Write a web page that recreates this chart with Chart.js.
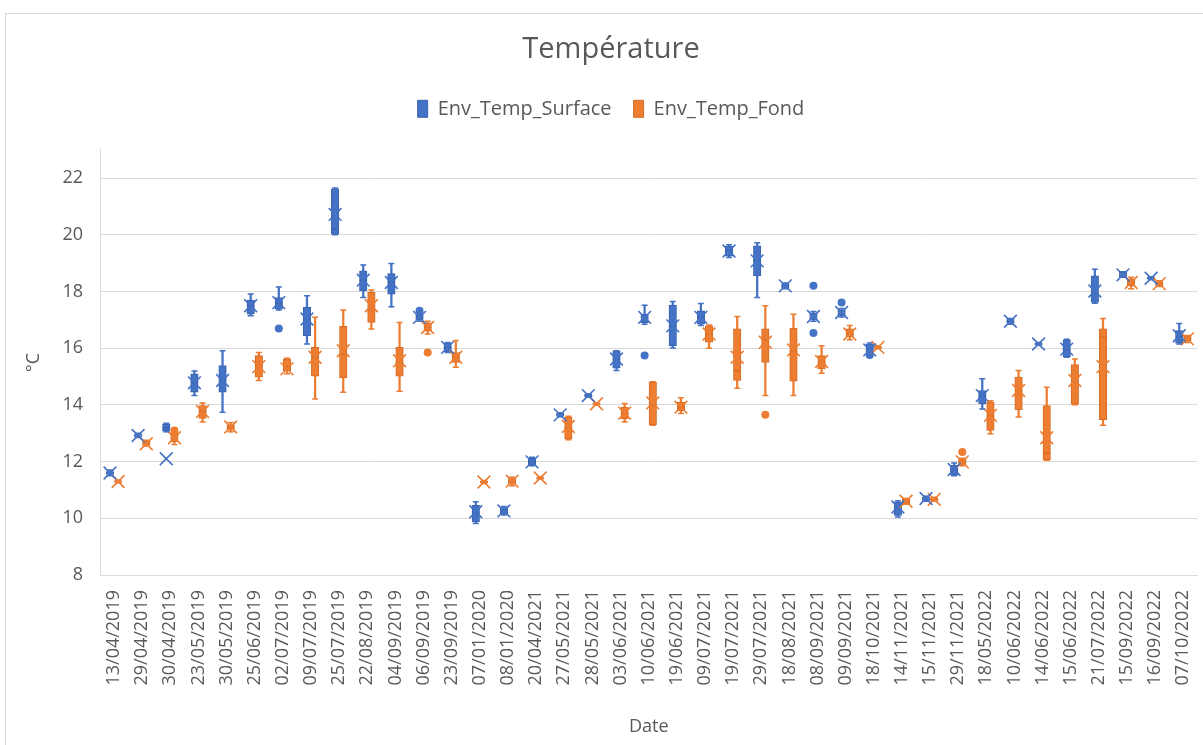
<!DOCTYPE html>
<html>
<head>
<meta charset="utf-8">
<title>Température</title>
<script src="https://cdn.jsdelivr.net/npm/chart.js@4.4.1/dist/chart.umd.min.js"></script>
<style>
    body { margin: 0; background: #fff; overflow: hidden; }
    #frame { position: absolute; left: 5px; top: 13px; width: 1300px; height: 800px; border: 1px solid #d9d9d9; }
    #wrap { position: absolute; left: 0; top: 0; width: 1208px; height: 745px; }
</style>
</head>
<body>
<div id="frame"></div>
<div id="wrap"><canvas id="chart"></canvas></div>
<script>
const dates = ["13/04/2019", "29/04/2019", "30/04/2019", "23/05/2019", "30/05/2019", "25/06/2019",
    "02/07/2019", "09/07/2019", "25/07/2019", "22/08/2019", "04/09/2019", "06/09/2019", "23/09/2019",
    "07/01/2020", "08/01/2020", "20/04/2021", "27/05/2021", "28/05/2021", "03/06/2021", "10/06/2021",
    "19/06/2021", "09/07/2021", "19/07/2021", "29/07/2021", "18/08/2021", "08/09/2021", "09/09/2021",
    "18/10/2021", "14/11/2021", "15/11/2021", "29/11/2021", "18/05/2022", "10/06/2022", "14/06/2022",
    "15/06/2022", "21/07/2022", "15/09/2022", "16/09/2022", "07/10/2022"];

// Env_Temp_Surface
const surfMin  = [11.5, 12.85, 13.05, 14.33, 13.74, 17.15, 17.35, 16.15, 20.0, 17.79, 17.46, 16.95, 15.85,
    9.82, 10.12, 11.85, 13.58, 14.27, 15.21, 16.85, 16.01, 16.8, 19.2, 17.79, 18.1, 16.95, 17.1,
    15.85, 10.05, 10.6, 11.5, 13.86, 16.85, 16.1, 15.68, 17.59, 18.5, 18.42, 16.15];
const surfQ1   = [11.55, 12.88, 13.08, 14.45, 14.45, 17.2, 17.38, 16.44, 20.02, 18.02, 17.91, 17.0, 15.88,
    9.87, 10.15, 11.88, 13.6, 14.29, 15.3, 16.9, 16.09, 16.85, 19.25, 18.55, 18.12, 17.0, 17.15,
    15.88, 10.1, 10.63, 11.52, 14.04, 16.88, 16.12, 15.7, 17.62, 18.52, 18.44, 16.18];
const surfMed  = [11.6, 12.92, 13.2, 14.8, 14.9, 17.5, 17.6, 17.0, 20.2, 18.4, 18.3, 17.1, 16.03,
    10.2, 10.26, 12.0, 13.65, 14.33, 15.6, 17.05, 16.8, 17.1, 19.45, 19.1, 18.2, 17.12, 17.26,
    15.95, 10.35, 10.7, 11.7, 14.3, 16.95, 16.15, 15.95, 18.0, 18.6, 18.47, 16.4];
const surfQ3   = [11.65, 12.97, 13.32, 15.1, 15.39, 17.7, 17.79, 17.44, 21.62, 18.73, 18.63, 17.2, 16.18,
    10.46, 10.38, 12.12, 13.7, 14.37, 15.9, 17.2, 17.52, 17.32, 19.6, 19.61, 18.28, 17.25, 17.35,
    16.15, 10.58, 10.75, 11.87, 14.51, 17.02, 16.18, 16.3, 18.55, 18.68, 18.5, 16.62];
const surfMax  = [11.7, 13.0, 13.35, 15.2, 15.91, 17.91, 18.16, 17.85, 21.65, 18.94, 18.99, 17.25, 16.2,
    10.58, 10.42, 12.15, 13.72, 14.39, 15.91, 17.52, 17.65, 17.58, 19.65, 19.72, 18.3, 17.3, 17.4,
    16.18, 10.62, 10.78, 11.95, 14.92, 17.05, 16.2, 16.32, 18.79, 18.7, 18.52, 16.87];
const surfMean = [11.6, 12.92, 12.1, 14.78, 14.86, 17.5, 17.61, 17.03, 20.72, 18.4, 18.32, 17.09, 16.03,
    10.23, 10.26, 11.99, 13.65, 14.33, 15.62, 17.09, 16.79, 17.09, 19.43, 19.08, 18.2, 17.12, 17.26,
    15.94, 10.4, 10.7, 11.72, 14.33, 16.95, 16.15, 15.97, 18.02, 18.59, 18.47, 16.44];
const surfOutIdx = [6, 11, 19, 25, 25, 26, 27];
const surfOutVal = [16.7, 17.32, 15.74, 18.2, 16.54, 17.61, 15.76];

// Env_Temp_Fond
const fondMin  = [11.25, 12.55, 12.6, 13.4, 13.05, 14.86, 15.1, 14.21, 14.45, 16.68, 14.48, 16.5, 15.33,
    11.23, 11.15, 11.38, 12.77, 14.0, 13.4, 13.28, 13.7, 16.0, 14.59, 14.33, 14.33, 15.12, 16.3,
    15.98, 10.5, 10.6, 11.85, 12.98, 13.57, 12.05, 14.01, 13.28, 18.1, 18.18, 16.2];
const fondQ1   = [11.27, 12.57, 12.7, 13.52, 13.12, 14.98, 15.21, 15.01, 14.95, 16.91, 15.01, 16.6, 15.5,
    11.25, 11.2, 11.4, 12.8, 14.02, 13.51, 13.3, 13.8, 16.21, 14.86, 15.5, 14.84, 15.27, 16.4,
    16.0, 10.52, 10.62, 11.9, 13.1, 13.83, 12.07, 14.03, 13.48, 18.2, 18.2, 16.25];
const fondMed  = [11.3, 12.63, 12.85, 13.8, 13.22, 15.4, 15.35, 15.7, 15.8, 17.4, 15.5, 16.75, 15.7,
    11.28, 11.3, 11.42, 13.2, 14.04, 13.7, 14.0, 13.92, 16.5, 15.21, 16.3, 15.9, 15.5, 16.5,
    16.03, 10.6, 10.67, 12.0, 13.6, 14.5, 12.3, 14.8, 16.38, 18.35, 18.28, 16.33];
const fondQ3   = [11.33, 12.72, 13.0, 13.98, 13.3, 15.74, 15.62, 16.03, 16.77, 17.97, 16.03, 16.9, 15.85,
    11.31, 11.4, 11.44, 13.57, 14.06, 13.92, 14.8, 14.1, 16.79, 16.68, 16.68, 16.71, 15.74, 16.68,
    16.06, 10.68, 10.72, 12.1, 14.1, 14.98, 13.98, 15.42, 16.68, 18.45, 18.35, 16.42];
const fondMax  = [11.35, 12.75, 13.02, 14.07, 13.38, 15.85, 15.65, 17.09, 17.35, 18.05, 16.91, 16.95, 16.27,
    11.33, 11.45, 11.46, 13.6, 14.08, 14.05, 14.82, 14.25, 16.82, 17.12, 17.5, 17.2, 16.09, 16.8,
    16.08, 10.7, 10.74, 12.12, 14.15, 15.21, 14.62, 15.62, 17.05, 18.5, 18.38, 16.45];
const fondMean = [11.3, 12.63, 12.84, 13.77, 13.22, 15.35, 15.27, 15.68, 15.91, 17.5, 15.56, 16.73, 15.68,
    11.28, 11.31, 11.42, 13.24, 14.04, 13.71, 14.07, 13.92, 16.5, 15.68, 16.21, 15.94, 15.53, 16.5,
    16.03, 10.6, 10.67, 11.99, 13.63, 14.51, 12.84, 14.86, 15.35, 18.32, 18.28, 16.33];
const fondOutIdx = [2, 11, 23, 30];
const fondOutVal = [13.1, 15.85, 13.65, 12.34];

const blue = "#4472C4";
const blueEdge = "#3A63AE";
const orange = "#ED7D31";
const orangeEdge = "#D56B24";

// shift of each series' box from the category centre (in category units)
const shift = 0.145;

function spans(lo, hi, off) {
    return lo.map((v, i) => ({ x: i + off, y: [v, hi[i]] }));
}

function pts(values, off) {
    return values.map((v, i) => ({ x: i + off, y: v }));
}

function outPts(idx, values, off) {
    return idx.map((k, j) => ({ x: k + off, y: values[j] }));
}

function boxSet(label, lo, hi, off, fill, edge) {
    return {
        label: label,
        data: spans(lo, hi, off),
        xAxisID: "xp",
        grouped: false,
        barThickness: 7.5,
        backgroundColor: fill,
        borderColor: edge,
        borderWidth: 1,
        borderSkipped: false,
        order: 1
    };
}

function whiskSet(lo, hi, off, color) {
    return {
        label: "",
        data: spans(lo, hi, off),
        xAxisID: "xp",
        grouped: false,
        barThickness: 1.6,
        backgroundColor: color,
        borderWidth: 0,
        order: 2
    };
}

function pointSet(data, style, radius, color, width) {
    return {
        type: "scatter",
        label: "",
        data: data,
        xAxisID: "xp",
        pointStyle: style,
        pointRadius: radius,
        pointHoverRadius: radius,
        pointBackgroundColor: color,
        pointBorderColor: color,
        pointBorderWidth: width,
        order: 0
    };
}

// leave a gap between the legend and the plot
const legendGap = {
    id: "legendGap",
    beforeInit(chart) {
        const fit = chart.legend.fit;
        chart.legend.fit = function () {
            fit.bind(chart.legend)();
            this.height += 21;
        };
    }
};

Chart.defaults.font.family = "'Open Sans', 'Noto Sans', sans-serif";
Chart.defaults.color = "#595959";

const ctx = document.getElementById("chart").getContext("2d");

new Chart(ctx, {
    type: "bar",
    plugins: [legendGap],
    data: {
        labels: dates,
        datasets: [
            boxSet("Env_Temp_Surface", surfQ1, surfMed, -shift, blue, blueEdge),
            boxSet("", surfMed, surfQ3, -shift, blue, blueEdge),
            boxSet("Env_Temp_Fond", fondQ1, fondMed, shift, orange, orangeEdge),
            boxSet("", fondMed, fondQ3, shift, orange, orangeEdge),
            whiskSet(surfMin, surfMax, -shift, blue),
            whiskSet(fondMin, fondMax, shift, orange),
            pointSet(pts(surfMin, -shift).concat(pts(surfMax, -shift)), "line", 3, blue, 1.5),
            pointSet(pts(fondMin, shift).concat(pts(fondMax, shift)), "line", 3, orange, 1.5),
            pointSet(pts(surfMean, -shift), "crossRot", 9, blue, 1.6),
            pointSet(pts(fondMean, shift), "crossRot", 9, orange, 1.6),
            pointSet(outPts(surfOutIdx, surfOutVal, -shift), "circle", 4, blue, 0),
            pointSet(outPts(fondOutIdx, fondOutVal, shift), "circle", 4, orange, 0)
        ]
    },
    options: {
        responsive: true,
        maintainAspectRatio: false,
        animation: false,
        layout: { padding: { top: 32, left: 14, right: 0, bottom: 3 } },
        plugins: {
            title: {
                display: true,
                text: "Température",
                color: "#595959",
                font: { size: 29, weight: "normal" },
                padding: { top: 0, bottom: 10 }
            },
            legend: {
                labels: {
                    font: { size: 20 },
                    color: "#595959",
                    boxWidth: 10,
                    boxHeight: 17,
                    padding: 22,
                    filter: item => item.text !== ""
                }
            },
            tooltip: { enabled: false }
        },
        scales: {
            x: {
                type: "category",
                offset: true,
                grid: { display: false, drawTicks: false },
                border: { display: true, color: "#d9d9d9" },
                ticks: { autoSkip: false, minRotation: 90, maxRotation: 90, padding: 15, font: { size: 18 }, color: "#595959" },
                title: { display: true, text: "Date", font: { size: 18 }, color: "#595959" },
                afterFit: scale => {
                    scale.height = 167;
                    scale.paddingLeft = 0;
                    scale.paddingRight = 0;
                }
            },
            xp: {
                type: "linear",
                display: false,
                offset: false,
                min: -0.5,
                max: dates.length - 0.5
            },
            y: {
                stacked: false,
                min: 8,
                max: 23,
                ticks: { stepSize: 2, includeBounds: false, padding: 17, font: { size: 18 }, color: "#595959" },
                grid: { color: "#d9d9d9", drawTicks: false },
                border: { display: true, color: "#d9d9d9" },
                title: { display: true, text: "°C", font: { size: 18 }, color: "#595959", padding: 9 },
                afterFit: scale => { scale.width = 86; }
            }
        }
    }
});
</script>
</body>
</html>
